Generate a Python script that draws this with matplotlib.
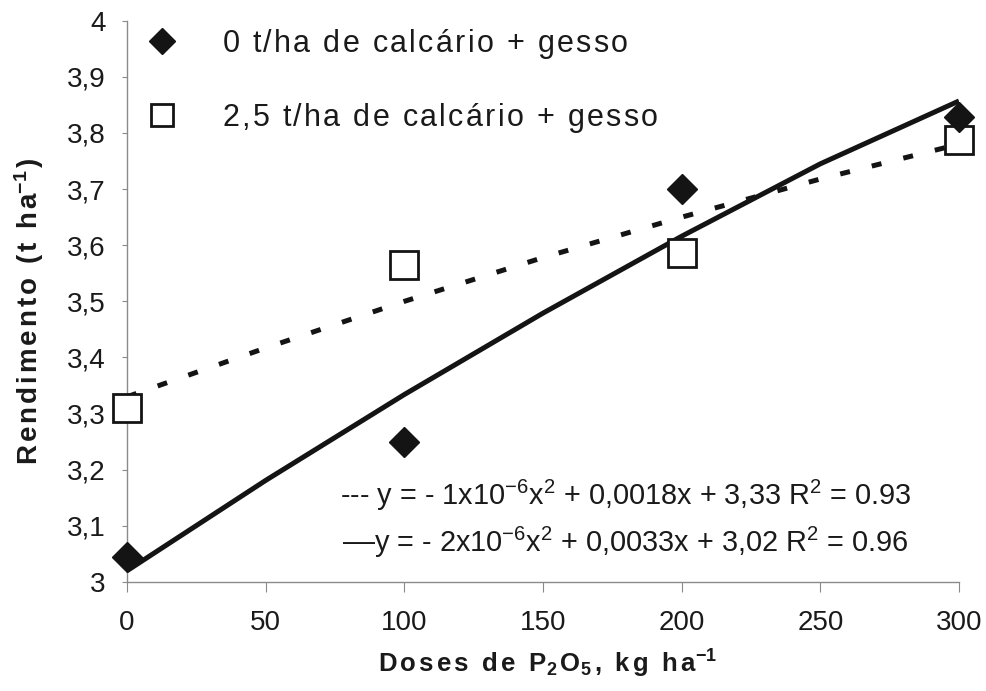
import matplotlib
matplotlib.use('Agg')
import matplotlib.pyplot as plt
from matplotlib.lines import Line2D

plt.rcParams['font.family'] = ['Liberation Sans', 'DejaVu Sans']
plt.rcParams['mathtext.fontset'] = 'custom'
plt.rcParams['mathtext.rm'] = 'Liberation Sans'
plt.rcParams['mathtext.it'] = 'Liberation Sans:italic'
plt.rcParams['mathtext.bf'] = 'Liberation Sans:bold'
plt.rcParams['mathtext.default'] = 'regular'

# measured points (kg/ha P2O5 -> t/ha)
doses = [0, 100, 200, 300]
rend_sem = [3.045, 3.249, 3.701, 3.829]   # 0 t/ha calcario + gesso
rend_com = [3.31, 3.565, 3.586, 3.788]    # 2,5 t/ha calcario + gesso

# trend curves
dose_tr = [0, 50, 100, 150, 200, 250, 300]
tr_sem = [3.02, 3.181, 3.334, 3.479, 3.616, 3.745, 3.857]
tr_com = [3.33, 3.417, 3.50, 3.578, 3.65, 3.718, 3.78]

xticks = [0, 50, 100, 150, 200, 250, 300]
yticks = [3.0, 3.1, 3.2, 3.3, 3.4, 3.5, 3.6, 3.7, 3.8, 3.9, 4.0]
ytick_labels = ['3', '3,1', '3,2', '3,3', '3,4', '3,5', '3,6', '3,7', '3,8', '3,9', '4']

leg_labels = ['0 t/ha de calcário + gesso', '2,5 t/ha de calcário + gesso']
eq_com = '--- y = - 1x10$^{-6}$x$^{2}$ + 0,0018x + 3,33 R$^{2}$ = 0.93'
eq_sem = '\u2013\u2013y = - 2x10$^{-6}$x$^{2}$ + 0,0033x + 3,02 R$^{2}$ = 0.96'

INK = '#141414'
GREY = '#8a8a8a'


def spread(tokens, gap):
    # fake letter spacing with mathtext
    parts = []
    for t in tokens:
        parts.append(r'{\ }' if t == ' ' else '{' + t + '}')
    return '$' + (r'\hspace{%.2f}' % gap).join(parts) + '$'


fig = plt.figure(figsize=(9.86, 6.91), dpi=100)
ax = fig.add_axes([127 / 986, 1 - 582 / 691, 832 / 986, 561.3 / 691])

ax.plot(dose_tr, tr_sem, color=INK, lw=3.6, solid_capstyle='butt', zorder=2)
ax.plot(dose_tr, tr_com, color=INK, lw=3.6, dashes=(2, 4.5), dash_capstyle='butt', zorder=2)
ax.plot(doses, rend_sem, ls='none', marker='D', ms=15.3, color=INK, clip_on=False, zorder=4)
ax.plot(doses, rend_com, ls='none', marker='s', ms=20, mfc='white', mec=INK, mew=2,
        clip_on=False, zorder=3)

ax.set_xlim(0, 300)
ax.set_ylim(3, 4)
ax.set_xticks(xticks)
ax.set_xticklabels([str(v) for v in xticks])
ax.set_yticks(yticks)
ax.set_yticklabels(ytick_labels)

for s in ['top', 'right']:
    ax.spines[s].set_visible(False)
for s in ['left', 'bottom']:
    ax.spines[s].set_color(GREY)
    ax.spines[s].set_linewidth(1)

ax.tick_params(axis='x', direction='out', length=7, width=0.8, color=GREY,
               pad=13, labelsize=20, labelcolor='#1a1a1a')
ax.tick_params(axis='y', direction='out', length=3.5, width=0.8, color=GREY,
               pad=12, labelsize=20, labelcolor='#1a1a1a')

# axis titles
ylab = spread(list('Rendimento (t h') + ['a^{-1}', ')'], 0.13)
xlab = spread(list('Doses de ') + ['P_2', 'O_5'] + list(', kg h') + ['a^{-1}'], 0.15)
fig.text(29 / 986, 1 - 311 / 691, ylab, rotation=90, ha='center', va='center',
         fontsize=20, fontweight='bold', color='#1a1a1a')
fig.text(548 / 986, 1 - 673 / 691, xlab, ha='center', va='baseline',
         fontsize=18.5, fontweight='bold', color='#1a1a1a')

# legend
handles = [Line2D([], [], ls='none', marker='D', ms=13.7, color=INK),
           Line2D([], [], ls='none', marker='s', ms=16.5, mfc='white', mec=INK, mew=2)]
ax.legend(handles, [spread(list(t), 0.09) for t in leg_labels],
          loc='upper left', bbox_to_anchor=(147 / 986, 664 / 691),
          bbox_transform=fig.transFigure, frameon=False, borderpad=0,
          borderaxespad=0, handlelength=1.0, handletextpad=1.46,
          labelspacing=1.3, fontsize=22, labelcolor='#1a1a1a')

# regression equations
fig.text(340 / 986, 1 - 505 / 691, eq_com, ha='left', va='baseline', fontsize=20.8, color='#1a1a1a')
fig.text(342 / 986, 1 - 552 / 691, eq_sem, ha='left', va='baseline', fontsize=20.8, color='#1a1a1a')

fig.savefig('out.png', dpi=100)
